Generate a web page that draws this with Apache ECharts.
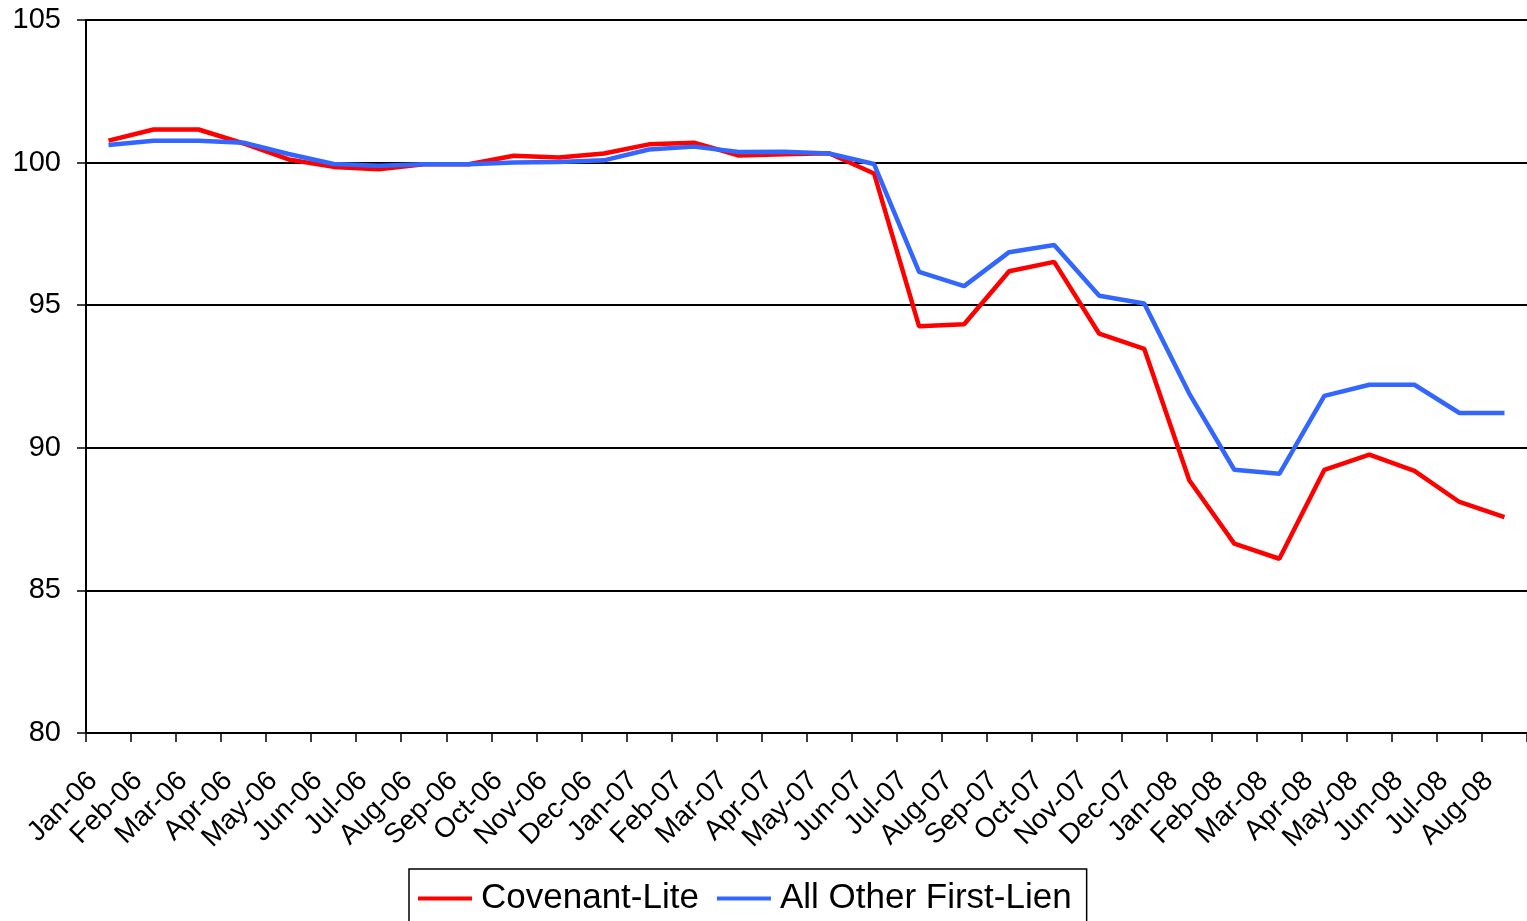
<!DOCTYPE html>
<html>
<head>
<meta charset="utf-8">
<script src="https://cdn.jsdelivr.net/npm/echarts@6/dist/echarts.min.js"></script>
<style>
  html, body { margin: 0; padding: 0; background: #fff; }
  #chart { width: 1527px; height: 921px; }
</style>
</head>
<body>
<div id="chart"></div>
<script>
// Monthly categories
const months = [
  'Jan-06','Feb-06','Mar-06','Apr-06','May-06','Jun-06','Jul-06','Aug-06',
  'Sep-06','Oct-06','Nov-06','Dec-06','Jan-07','Feb-07','Mar-07','Apr-07',
  'May-07','Jun-07','Jul-07','Aug-07','Sep-07','Oct-07','Nov-07','Dec-07',
  'Jan-08','Feb-08','Mar-08','Apr-08','May-08','Jun-08','Jul-08','Aug-08'
];

// Average bid price, covenant-lite loans
const covenantLite = [
  100.77, 101.16, 101.16, 100.67, 100.11, 99.85, 99.77, 99.94,
  99.94, 100.24, 100.18, 100.32, 100.64, 100.70, 100.25, 100.29,
  100.33, 99.62, 94.26, 94.33, 96.19, 96.52, 94.00, 93.47,
  88.86, 86.64, 86.11, 89.23, 89.76, 89.19, 88.10, 87.57
];

// Average bid price, all other first-lien loans
const allOtherFirstLien = [
  100.62, 100.77, 100.77, 100.70, 100.30, 99.95, 99.89, 99.94,
  99.94, 100.00, 100.02, 100.08, 100.46, 100.56, 100.37, 100.38,
  100.32, 99.95, 96.17, 95.67, 96.86, 97.11, 95.33, 95.06,
  91.90, 89.23, 89.09, 91.82, 92.21, 92.21, 91.22, 91.22
];

const seriesNames = ['Covenant-Lite', 'All Other First-Lien'];
const yMin = 80, yMax = 105, yStep = 5;

const FONT = '"Liberation Sans", Arial, sans-serif';

const chart = echarts.init(document.getElementById('chart'), null, { renderer: 'canvas' });

chart.setOption({
  animation: false,
  backgroundColor: '#fff',
  grid: { left: 86, top: 20, right: -3, bottom: 188, containLabel: false },
  legend: {
    left: 409,
    top: 869,
    orient: 'horizontal',
    itemWidth: 54,
    itemHeight: 4,
    itemGap: 18,
    icon: 'rect',
    padding: [12, 15, 14, 9],
    borderColor: '#000',
    borderWidth: 1.5,
    textStyle: { fontFamily: FONT, fontSize: 35, color: '#000', padding: [0, 0, 0, 4] },
    data: seriesNames
  },
  xAxis: {
    type: 'category',
    data: months,
    boundaryGap: true,
    axisLine: { lineStyle: { color: '#000', width: 2 } },
    axisTick: { show: true, length: 9, lineStyle: { color: '#000', width: 1.5 } },
    axisLabel: {
      interval: 0,
      rotate: 45,
      margin: 28,
      padding: [0, 22, 0, 0],
      fontFamily: FONT,
      fontSize: 28,
      color: '#000'
    },
    splitLine: { show: false }
  },
  yAxis: {
    type: 'value',
    min: yMin,
    max: yMax,
    interval: yStep,
    axisLine: { show: true, lineStyle: { color: '#000', width: 2 } },
    axisTick: { show: true, length: 9, lineStyle: { color: '#000', width: 1.5 } },
    axisLabel: { margin: 25, fontFamily: FONT, fontSize: 29, color: '#000' },
    splitLine: { show: true, lineStyle: { color: '#000', width: 2 } }
  },
  series: [
    {
      name: seriesNames[0],
      type: 'line',
      data: covenantLite,
      symbol: 'none',
      lineStyle: { color: '#FF0000', width: 4.5 },
      itemStyle: { color: '#FF0000' },
      z: 3
    },
    {
      name: seriesNames[1],
      type: 'line',
      data: allOtherFirstLien,
      symbol: 'none',
      lineStyle: { color: '#3366FF', width: 4.5 },
      itemStyle: { color: '#3366FF' },
      z: 4
    }
  ]
});
</script>
</body>
</html>
